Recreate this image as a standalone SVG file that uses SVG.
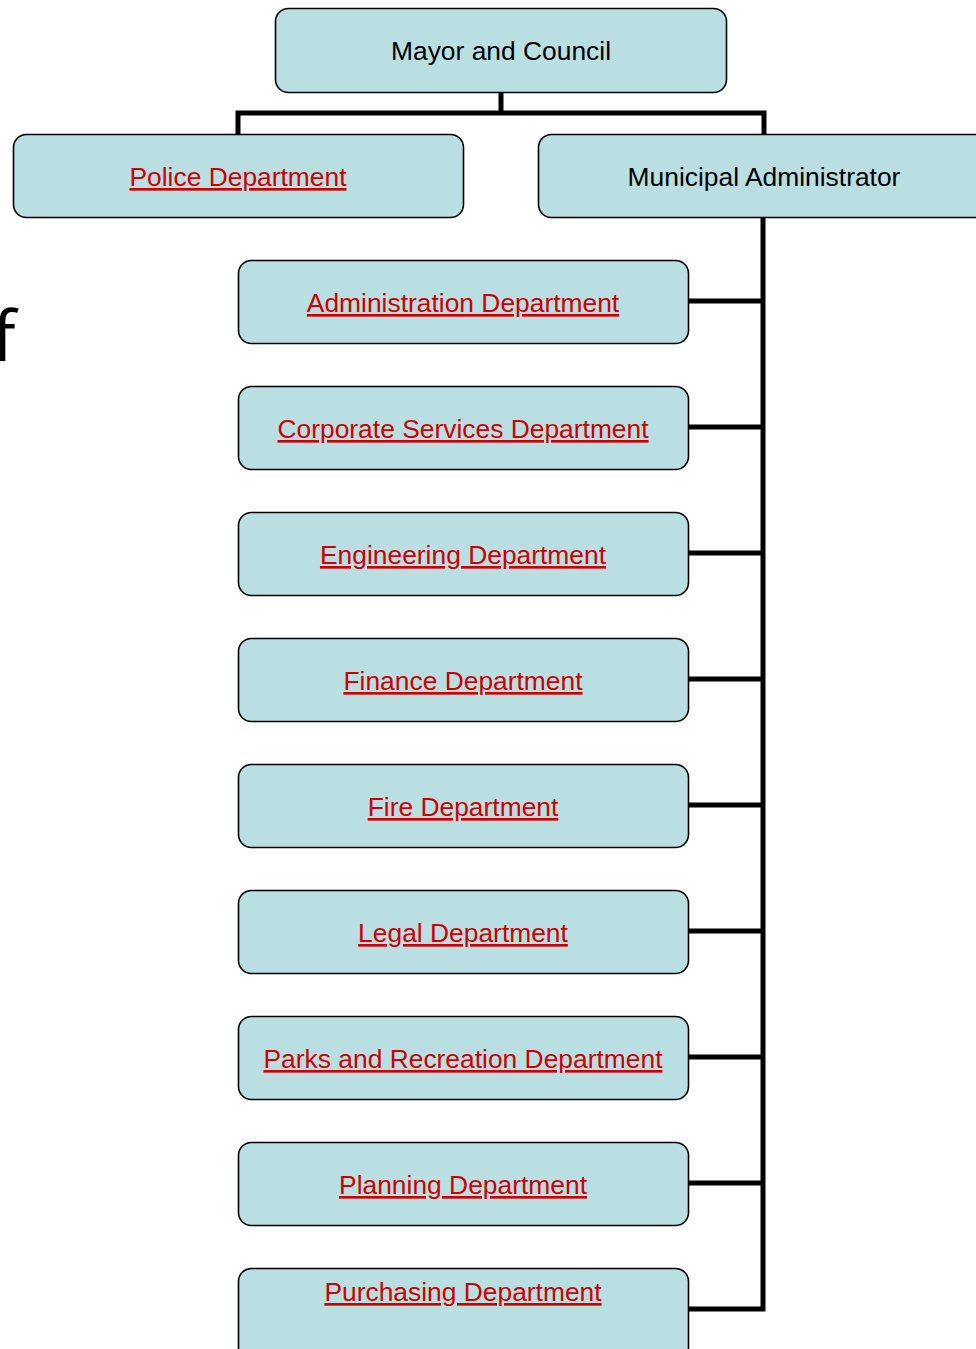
<svg xmlns="http://www.w3.org/2000/svg" width="976" height="1349" viewBox="0 0 976 1349">
<style>
.box{fill:#badfe2;stroke:#000;stroke-width:1.6}
.t{font-family:"Liberation Sans",Arial,sans-serif;font-size:26.4px;text-anchor:middle}
.blk{fill:#000}
.lnk{fill:#cc0000;text-decoration:underline}
.c{fill:none;stroke:#000;stroke-width:5}
</style>
<rect width="976" height="1349" fill="#fff"/>
<text x="-8" y="361" font-family="'Open Sans','Liberation Sans',sans-serif" font-size="70" fill="#000">f</text>
<g id="connectors">
<path class="c" d="M501 92V113M238 134V113H764V134"/>
<path class="c" d="M763 217V1309H689"/>
<path class="c" d="M689 301H763M689 427H763M689 553H763M689 679H763M689 805H763M689 931H763M689 1057H763M689 1183H763"/>
</g>
<g id="mayor"><rect class="box" x="275.5" y="8.5" width="451" height="84" rx="13"/><text class="t blk" x="501" y="60">Mayor and Council</text></g>
<g id="police"><rect class="box" x="13.5" y="134.5" width="450" height="83" rx="13"/><text class="t lnk" x="238" y="186">Police Department</text></g>
<g id="admin-mun"><rect class="box" x="538.5" y="134.5" width="460" height="83" rx="13"/><text class="t blk" x="764" y="186">Municipal Administrator</text></g>
<g id="administration"><rect class="box" x="238.5" y="260.5" width="450" height="83" rx="13"/><text class="t lnk" x="463" y="312">Administration Department</text></g>
<g id="corporate"><rect class="box" x="238.5" y="386.5" width="450" height="83" rx="13"/><text class="t lnk" x="463" y="438">Corporate Services Department</text></g>
<g id="engineering"><rect class="box" x="238.5" y="512.5" width="450" height="83" rx="13"/><text class="t lnk" x="463" y="564">Engineering Department</text></g>
<g id="finance"><rect class="box" x="238.5" y="638.5" width="450" height="83" rx="13"/><text class="t lnk" x="463" y="690">Finance Department</text></g>
<g id="fire"><rect class="box" x="238.5" y="764.5" width="450" height="83" rx="13"/><text class="t lnk" x="463" y="816">Fire Department</text></g>
<g id="legal"><rect class="box" x="238.5" y="890.5" width="450" height="83" rx="13"/><text class="t lnk" x="463" y="942">Legal Department</text></g>
<g id="parks"><rect class="box" x="238.5" y="1016.5" width="450" height="83" rx="13"/><text class="t lnk" x="463" y="1068">Parks and Recreation Department</text></g>
<g id="planning"><rect class="box" x="238.5" y="1142.5" width="450" height="83" rx="13"/><text class="t lnk" x="463" y="1194">Planning Department</text></g>
<g id="purchasing"><rect class="box" x="238.5" y="1268.5" width="450" height="100" rx="13"/><text class="t lnk" x="463" y="1301">Purchasing Department</text></g>
</svg>
